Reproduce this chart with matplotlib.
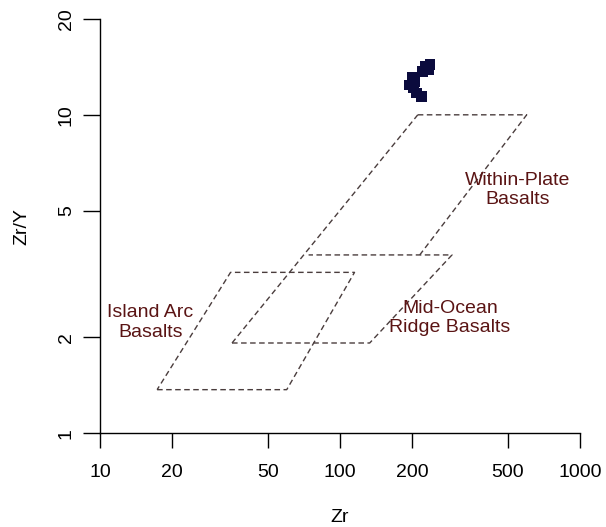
#!/usr/bin/env python3
"""Zr vs Zr/Y tectonic discrimination plot (Pearce & Norry style fields)."""

import matplotlib

matplotlib.use("Agg")
import matplotlib.pyplot as plt  # noqa: E402
from matplotlib.ticker import FixedLocator, NullLocator  # noqa: E402

plt.rcParams["font.family"] = ["Liberation Sans", "DejaVu Sans"]

# sample analyses
zr = [237, 228, 220, 233, 200, 194, 203, 209, 218, 205]
zr_y = [14.4, 14.2, 13.7, 13.9, 13.1, 12.4, 12.2, 11.7, 11.4, 12.7]

# field boundaries (Zr, Zr/Y)
iab_x = [17.3, 60, 115, 35, 17.3]
iab_y = [1.37, 1.37, 3.2, 3.2, 1.37]
morb_x = [35.5, 133, 293, 74]
morb_y = [1.92, 1.92, 3.63, 3.63]
wpb_left_x = [35.5, 211]
wpb_left_y = [1.92, 10]
wpb_x = [211, 600, 215]
wpb_y = [10, 10, 3.63]

x_ticks = [10, 20, 50, 100, 200, 500, 1000]
y_ticks = [1, 2, 5, 10, 20]

line_kw = dict(color="#4a3d3d", linewidth=1.0, linestyle=(0, (4, 2.5)))
label_color = "#5a1414"

fig = plt.figure(figsize=(6.06, 5.27), dpi=100)
ax = fig.add_axes([0.165, 0.178, 0.792, 0.786])
ax.set_xscale("log")
ax.set_yscale("log")
ax.set_xlim(10, 1000)
ax.set_ylim(1, 20)

ax.plot(iab_x, iab_y, **line_kw)
ax.plot(morb_x, morb_y, **line_kw)
ax.plot(wpb_left_x, wpb_left_y, **line_kw)
ax.plot(wpb_x, wpb_y, **line_kw)

ax.scatter(zr, zr_y, marker="s", s=60, color="#0b0b3d", edgecolors="none", zorder=3)

ax.text(16.2, 2.23, "Island Arc\nBasalts", ha="center", va="center",
        color=label_color, fontsize=14, linespacing=1.2)
ax.text(287, 2.30, "Mid-Ocean\nRidge Basalts", ha="center", va="center",
        color=label_color, fontsize=14, linespacing=1.2)
ax.text(552, 5.81, "Within-Plate\nBasalts", ha="center", va="center",
        color=label_color, fontsize=14, linespacing=1.2)

ax.xaxis.set_major_locator(FixedLocator(x_ticks))
ax.yaxis.set_major_locator(FixedLocator(y_ticks))
ax.xaxis.set_minor_locator(NullLocator())
ax.yaxis.set_minor_locator(NullLocator())
ax.set_xticklabels([str(t) for t in x_ticks])
ax.set_yticklabels([str(t) for t in y_ticks], rotation=90, va="center")
ax.tick_params(axis="x", length=11, width=1, pad=11, labelsize=14)
ax.tick_params(axis="y", length=12, width=1, pad=6, labelsize=14)

for side in ("top", "right"):
    ax.spines[side].set_visible(False)
for side in ("left", "bottom"):
    ax.spines[side].set_linewidth(1)

ax.set_xlabel("Zr", fontsize=14, labelpad=20)
ax.set_ylabel("Zr/Y", fontsize=14, labelpad=20)

fig.savefig("out.png", dpi=100)
